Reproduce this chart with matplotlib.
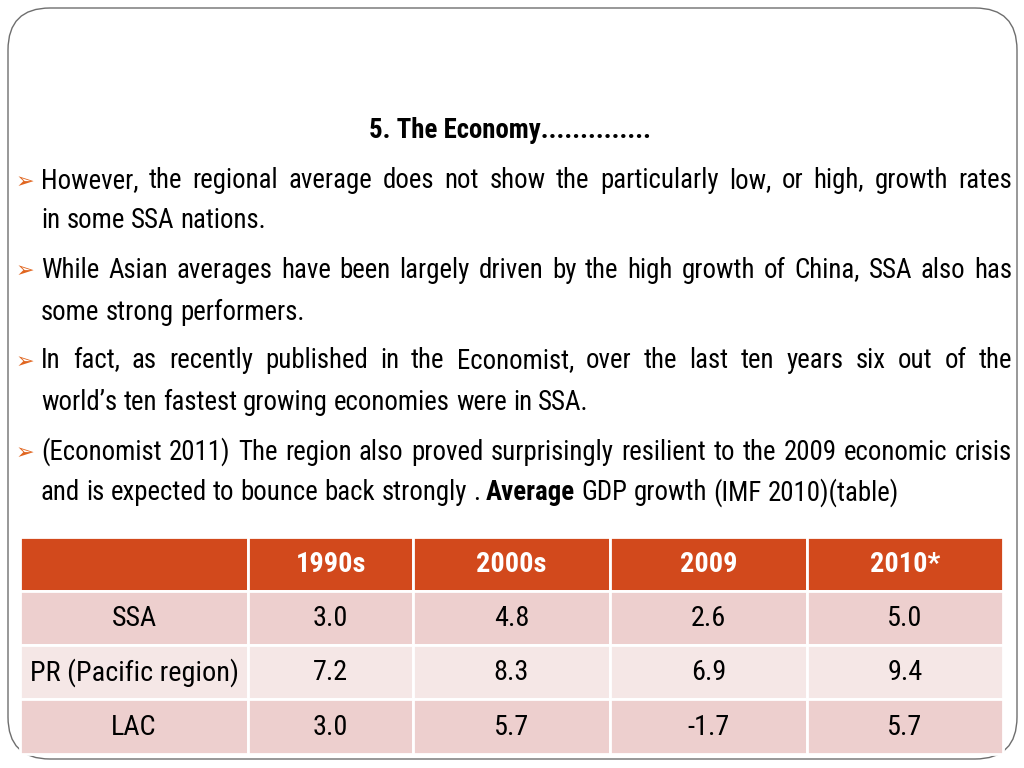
import matplotlib
matplotlib.use("Agg")
import matplotlib.pyplot as plt
from matplotlib import font_manager
from matplotlib.patches import FancyBboxPatch, Rectangle

# slide text
title = "5. The Economy.............."
lines = [
    # (text, justified, has bullet)
    ("However, the regional average does not show the particularly low, or high, growth rates", True, True),
    ("in some SSA nations.", False, False),
    ("While Asian averages have been largely driven by the high growth of China, SSA also has", True, True),
    ("some strong performers.", False, False),
    ("In fact, as recently published in the Economist, over the last ten years six out of the", True, True),
    ("world\u2019s ten fastest growing economies were in SSA.", False, False),
    ("(Economist 2011) The region also proved surprisingly resilient to the 2009 economic crisis", True, True),
    ("and is expected to bounce back strongly . Average GDP growth (IMF 2010)(table)", False, False),
]
bold_words = ["Average"]

# table data
col_labels = ["", "1990s", "2000s", "2009", "2010*"]
regions = ["SSA", "PR (Pacific region)", "LAC"]
g1990s = [3.0, 7.2, 3.0]
g2000s = [4.8, 8.3, 5.7]
g2009 = [2.6, 6.9, -1.7]
g2010 = [5.0, 9.4, 5.7]

# pick the narrowest installed family we know of
stretch = "normal"
names = {(f.name, str(f.stretch)) for f in font_manager.fontManager.ttflist}
FONT = ["Roboto", "DejaVu Sans"]
for nm, st in [("Liberation Sans Narrow", "normal"), ("Roboto Condensed", "normal"),
               ("DejaVu Sans", "condensed"), ("DejaVu Sans", "semi-condensed")]:
    if any(n == nm and (st == "normal" or s in (st, "75", "87.5")) for n, s in names):
        FONT = [nm, "DejaVu Sans"]
        stretch = st
        break

fig = plt.figure(figsize=(10.24, 7.68), dpi=100)
ax = fig.add_axes([0, 0, 1, 1])
ax.set_xlim(0, 1024)
ax.set_ylim(768, 0)
ax.axis("off")
renderer = fig.canvas.get_renderer()

# size the body font so the longest justified line fits
probe = ax.text(0, 0, "", fontsize=20, family=FONT, fontstretch=stretch)
wmax = 0
for txt, just, _ in lines:
    probe.set_text(txt)
    wmax = max(wmax, probe.get_window_extent(renderer).width)
probe.remove()
fs = min(23, 20 * 955 / wmax)

# rounded slide frame
ax.add_patch(FancyBboxPatch((8, 8), 1009, 751, boxstyle="round,pad=0,rounding_size=42",
                            fc="white", ec="#6e6e6e", lw=1.0))

ax.text(510, 130, title, ha="center", va="center", fontsize=fs, fontweight="bold",
        family=FONT, fontstretch=stretch)

def put_line(text, y, justify, x0=41, x1=1012):
    words = text.split(" ")
    ts = []
    for w in words:
        wt = "bold" if w in bold_words else "normal"
        ts.append(ax.text(0, y, w, ha="left", va="center", fontsize=fs, fontweight=wt,
                          family=FONT, fontstretch=stretch))
    widths = [t.get_window_extent(renderer).width for t in ts]
    sp = ax.text(0, 0, "a a", fontsize=fs, family=FONT, fontstretch=stretch)
    sp2 = ax.text(0, 0, "aa", fontsize=fs, family=FONT, fontstretch=stretch)
    space_w = sp.get_window_extent(renderer).width - sp2.get_window_extent(renderer).width
    sp.remove()
    sp2.remove()
    gap = (x1 - x0 - sum(widths)) / (len(words) - 1) if justify else space_w
    x = x0
    for t, w in zip(ts, widths):
        t.set_x(x)
        x += w + gap

line_y = [181, 221, 270, 312, 361, 403, 452, 493]
for (txt, just, bullet), y in zip(lines, line_y):
    if bullet:
        ax.text(25, y + 1, "\u27a2", ha="center", va="center", fontsize=16, color="#e0651f",
                family="DejaVu Sans")
    put_line(txt, y, just)

# table
col_x = [20, 248, 413, 610, 807, 1003]
row_y = [537, 591, 645, 699, 754]
header_c = "#d2491c"
row_c = ["#edcfce", "#f5e7e6", "#edcfce"]
values = list(zip(g1990s, g2000s, g2009, g2010))

for r in range(4):
    for c in range(5):
        x0, x1 = col_x[c], col_x[c + 1]
        y0, y1 = row_y[r], row_y[r + 1]
        fc = header_c if r == 0 else row_c[r - 1]
        ax.add_patch(Rectangle((x0, y0), x1 - x0, y1 - y0, fc=fc, ec="white", lw=2))
        if r == 0:
            s, col, wt = col_labels[c], "white", "bold"
        elif c == 0:
            s, col, wt = regions[r - 1], "black", "normal"
        else:
            s, col, wt = f"{values[r - 1][c - 1]:.1f}", "black", "normal"
        ax.text((x0 + x1) / 2, (y0 + y1) / 2 + 1, s, ha="center", va="center", fontsize=fs + 1,
                color=col, fontweight=wt, family=FONT, fontstretch=stretch)

fig.savefig("out.png", dpi=100)
